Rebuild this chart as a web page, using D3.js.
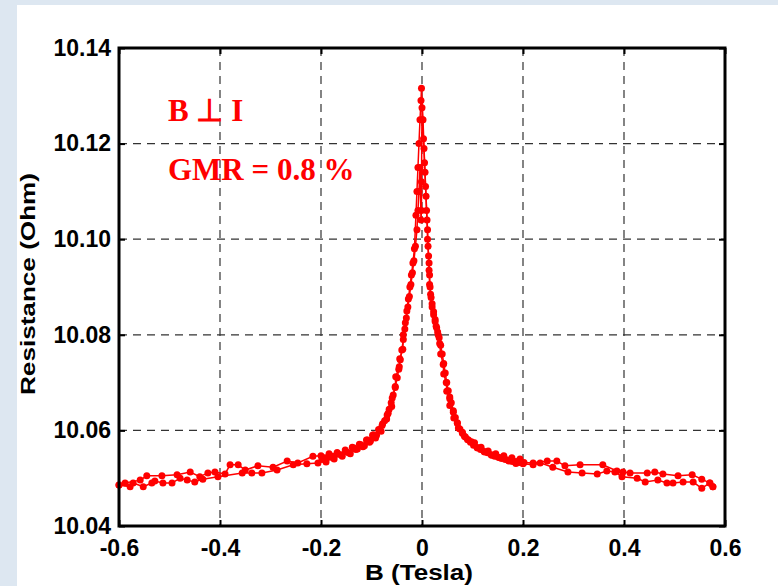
<!DOCTYPE html>
<html><head><meta charset="utf-8">
<script src="https://cdn.jsdelivr.net/npm/d3@7"></script>
<style>
html,body{margin:0;padding:0;background:#dde7f1;}
svg{display:block;}
</style></head>
<body>
<svg id="chart" width="778" height="586"></svg>
<script>
const xTicks = [-0.6, -0.4, -0.2, 0, 0.2, 0.4, 0.6];
const xTickLabels = ["-0.6", "-0.4", "-0.2", "0", "0.2", "0.4", "0.6"];
const yTicks = [10.04, 10.06, 10.08, 10.10, 10.12, 10.14];
const yTickLabels = ["10.04", "10.06", "10.08", "10.10", "10.12", "10.14"];
const xTitle = "B (Tesla)";
const yTitle = "Resistance (Ohm)";
const note1 = "B \u22A5 I";
const note2 = "GMR = 0.8 %";

// sweep from -0.6 T up to +0.6 T
const bUp = [-0.600,-0.588,-0.558,-0.545,-0.515,-0.485,-0.459,-0.440,-0.424,-0.410,-0.390,-0.380,-0.364,-0.350,-0.325,-0.295,-0.267,-0.246,-0.216,
 -0.200,-0.192,-0.184,-0.176,-0.168,-0.160,-0.152,-0.145,-0.138,-0.131,-0.124,-0.117,-0.110,-0.104,-0.098,-0.092,-0.086,-0.081,-0.078,-0.070,-0.067,-0.060,-0.059,-0.053,-0.052,-0.045,-0.044,-0.038,-0.037,-0.033,-0.030,-0.027,-0.024,-0.021,-0.018,-0.015,-0.012,-0.010,-0.008,-0.006,-0.004,-0.002,-0.001,
 0.002,0.004,0.006,0.008,0.010,0.011,0.013,0.014,0.015,0.017,0.020,0.023,0.026,0.028,0.031,0.034,0.037,0.040,0.043,0.046,0.049,0.052,0.055,0.058,0.062,0.066,0.070,0.075,0.080,0.086,0.092,0.098,0.104,0.110,0.117,0.124,0.131,0.138,0.146,0.154,0.162,0.170,0.178,0.186,0.194,
 0.202,0.220,0.248,0.267,0.283,0.313,0.358,0.386,0.398,0.412,0.446,0.461,0.477,0.507,0.535,0.554,0.570,0.576];
const rUp = [10.0486,10.0490,10.0496,10.0505,10.0505,10.0507,10.0513,10.0503,10.0511,10.0513,10.0509,10.0528,10.0528,10.0517,10.0526,10.0523,10.0536,10.0532,10.0546,
 10.0547,10.0543,10.0551,10.0546,10.0554,10.0549,10.0559,10.0553,10.0565,10.0560,10.0571,10.0566,10.0580,10.0575,10.0590,10.0584,10.0602,10.0598,10.0614,10.0624,10.0636,10.0650,10.0668,10.0690,10.0712,10.0733,10.0750,10.0770,10.0800,10.0825,10.0850,10.0875,10.0900,10.0925,10.0950,10.0980,10.1050,10.1100,10.1150,10.1200,10.1250,10.1290,10.1316,
 10.1250,10.1190,10.1140,10.1090,10.1040,10.1000,10.0965,10.0935,10.0905,10.0885,10.0865,10.0848,10.0832,10.0818,10.0806,10.0794,10.0778,10.0760,10.0740,10.0720,10.0700,10.0683,10.0670,10.0658,10.0641,10.0627,10.0616,10.0603,10.0594,10.0586,10.0580,10.0576,10.0574,10.0563,10.0565,10.0555,10.0557,10.0548,10.0551,10.0543,10.0547,10.0538,10.0543,10.0535,10.0540,
 10.0533,10.0532,10.0536,10.0536,10.0526,10.0528,10.0528,10.0515,10.0513,10.0511,10.0511,10.0513,10.0509,10.0505,10.0507,10.0498,10.0490,10.0482];

// sweep from +0.6 T back down to -0.6 T
const bDown = [0.576,0.570,0.554,0.537,0.517,0.497,0.485,0.467,0.442,0.426,0.396,0.382,0.366,0.347,0.317,0.289,0.259,0.234,0.220,
 0.200,0.193,0.186,0.179,0.172,0.165,0.158,0.151,0.144,0.137,0.130,0.123,0.116,0.109,0.102,0.096,0.090,0.084,0.080,0.072,0.070,0.063,0.062,0.055,0.055,0.049,0.048,0.043,0.042,0.037,0.035,0.032,0.029,0.026,0.023,0.020,0.018,0.016,0.015,0.014,0.012,0.011,0.009,0.007,0.005,0.003,0.001,0.000,
 -0.001,-0.001,-0.002,-0.004,-0.006,-0.008,-0.010,-0.013,-0.016,-0.019,-0.022,-0.025,-0.028,-0.031,-0.034,-0.037,-0.040,-0.043,-0.046,-0.049,-0.053,-0.057,-0.061,-0.065,-0.069,-0.074,-0.079,-0.084,-0.090,-0.096,-0.102,-0.108,-0.114,-0.121,-0.128,-0.135,-0.142,-0.150,-0.158,-0.166,-0.174,-0.182,-0.190,-0.198,
 -0.206,-0.228,-0.255,-0.287,-0.317,-0.337,-0.356,-0.404,-0.434,-0.450,-0.465,-0.479,-0.495,-0.513,-0.529,-0.535,-0.552,-0.572,-0.578,-0.600];
const rDown = [10.0482,10.0490,10.0479,10.0492,10.0492,10.0490,10.0490,10.0496,10.0492,10.0500,10.0503,10.0513,10.0515,10.0509,10.0511,10.0513,10.0523,10.0532,10.0528,
 10.0530,10.0533,10.0531,10.0535,10.0536,10.0539,10.0541,10.0544,10.0546,10.0549,10.0553,10.0556,10.0560,10.0564,10.0569,10.0575,10.0581,10.0588,10.0596,10.0605,10.0615,10.0626,10.0638,10.0652,10.0666,10.0682,10.0700,10.0718,10.0738,10.0760,10.0782,10.0800,10.0815,10.0828,10.0842,10.0858,10.0878,10.0900,10.0925,10.0950,10.0985,10.1020,10.1060,10.1110,10.1160,10.1210,10.1250,10.1275,
 10.1120,10.1060,10.1040,10.1150,10.1100,10.1060,10.1020,10.0985,10.0955,10.0930,10.0905,10.0880,10.0858,10.0835,10.0812,10.0790,10.0768,10.0748,10.0728,10.0710,10.0692,10.0674,10.0658,10.0644,10.0632,10.0620,10.0610,10.0601,10.0590,10.0591,10.0578,10.0580,10.0568,10.0570,10.0561,10.0563,10.0551,10.0555,10.0546,10.0550,10.0540,10.0544,10.0534,10.0539,
 10.0532,10.0530,10.0528,10.0517,10.0511,10.0511,10.0511,10.0503,10.0498,10.0492,10.0496,10.0500,10.0490,10.0490,10.0494,10.0490,10.0482,10.0490,10.0482,10.0486];

const svg = d3.select("#chart");
const W = 778, H = 586;
const m = {left: 119, right: 725, top: 48, bottom: 526};

svg.append("rect").attr("x", 17).attr("y", 5).attr("width", W - 17).attr("height", H - 5).attr("fill", "#ffffff");

const x = d3.scaleLinear().domain([-0.6, 0.6]).range([m.left, m.right]);
const y = d3.scaleLinear().domain([10.04, 10.14]).range([m.bottom, m.top]);

// grid lines
const grid = svg.append("g");
grid.selectAll("line.vx").data(xTicks.slice(1, -1)).join("line")
  .attr("x1", d => x(d)).attr("x2", d => x(d)).attr("y1", m.top).attr("y2", m.bottom)
  .attr("stroke", "#333").attr("stroke-width", 1.2).attr("stroke-dasharray", "8,6");
grid.selectAll("line.hy").data(yTicks.slice(1, -1)).join("line")
  .attr("y1", d => y(d)).attr("y2", d => y(d)).attr("x1", m.left).attr("x2", m.right)
  .attr("stroke", "#333").attr("stroke-width", 1.2).attr("stroke-dasharray", "8,6");

// data
const line = d3.line().x(d => x(d[0])).y(d => y(d[1]));
const sweeps = [d3.zip(bUp, rUp), d3.zip(bDown, rDown)];
const red = "#ff0000";
sweeps.forEach(s => {
  svg.append("path").datum(s).attr("d", line).attr("fill", "none").attr("stroke", red).attr("stroke-width", 1.5);
  svg.append("g").selectAll("circle").data(s).join("circle")
    .attr("cx", d => x(d[0])).attr("cy", d => y(d[1])).attr("r", 3.5).attr("fill", red);
});

// axes with inward ticks
const tickFont = "'Liberation Sans', Arial, sans-serif";
const xAxis = d3.axisBottom(x).tickValues(xTicks).tickSize(-6).tickPadding(14)
  .tickFormat((d, i) => xTickLabels[i]);
const yAxis = d3.axisLeft(y).tickValues(yTicks).tickSize(-6).tickPadding(8)
  .tickFormat((d, i) => yTickLabels[i]);
const xTop = d3.axisTop(x).tickValues(xTicks).tickSize(-6).tickFormat("");
const yRight = d3.axisRight(y).tickValues(yTicks).tickSize(-6).tickFormat("");

function styleAxis(g) {
  g.select(".domain").remove();
  g.selectAll(".tick line").attr("stroke", "#000").attr("stroke-width", 2);
  g.selectAll("text").attr("fill", "#000").style("font-family", tickFont)
    .style("font-weight", "bold").style("font-size", "23px");
}
svg.append("g").attr("transform", `translate(0,${m.bottom})`).call(xAxis).call(styleAxis);
svg.append("g").attr("transform", `translate(${m.left},0)`).call(yAxis).call(styleAxis);
svg.append("g").attr("transform", `translate(0,${m.top})`).call(xTop).call(styleAxis);
svg.append("g").attr("transform", `translate(${m.right},0)`).call(yRight).call(styleAxis);

// frame
svg.append("rect").attr("x", m.left).attr("y", m.top)
  .attr("width", m.right - m.left).attr("height", m.bottom - m.top)
  .attr("fill", "none").attr("stroke", "#000").attr("stroke-width", 3);

// titles
svg.append("text").attr("x", 419).attr("y", 580).attr("text-anchor", "middle")
  .attr("textLength", 108).attr("lengthAdjust", "spacingAndGlyphs")
  .style("font-family", tickFont).style("font-weight", "bold").style("font-size", "22px")
  .text(xTitle);
svg.append("text").attr("transform", "translate(35,284) rotate(-90)").attr("text-anchor", "middle")
  .attr("textLength", 222).attr("lengthAdjust", "spacingAndGlyphs")
  .style("font-family", tickFont).style("font-weight", "bold").style("font-size", "21px")
  .text(yTitle);

// annotations
const serif = "'Liberation Serif', 'Times New Roman', serif";
svg.append("text").attr("x", 168).attr("y", 121).attr("fill", red)
  .style("font-family", serif).style("font-weight", "bold").style("font-size", "31px").text(note1);
svg.append("text").attr("x", 168).attr("y", 180).attr("fill", red)
  .style("font-family", serif).style("font-weight", "bold").style("font-size", "31px").text(note2);
</script>
</body></html>
